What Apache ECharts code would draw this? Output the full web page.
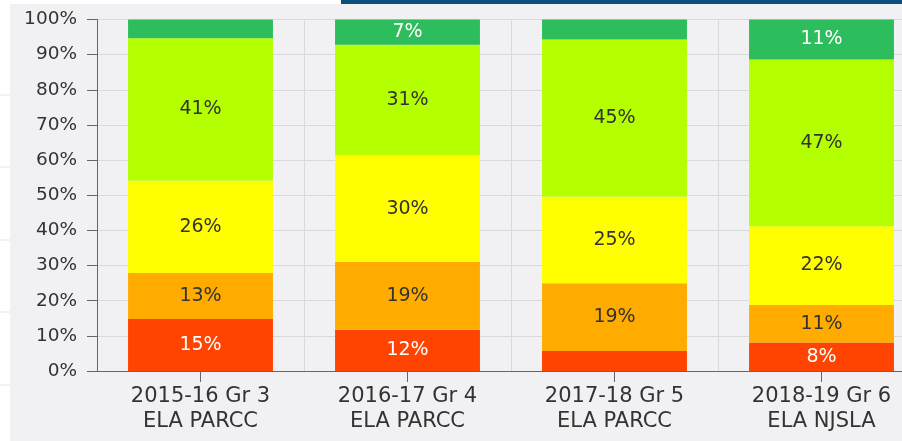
<!DOCTYPE html>
<html>
<head>
<meta charset="utf-8">
<script src="https://cdn.jsdelivr.net/npm/echarts@6/dist/echarts.min.js"></script>
<style>
    html, body { margin: 0; padding: 0; background: #fff; overflow: hidden; }
    /* plot runs past the right edge of the window, as in the screenshot */
    #chart { width: 925px; height: 441px; }
</style>
</head>
<body>
<div id="chart"></div>
<script>
// categories (x axis)
const categories = ['2015-16 Gr 3\nELA PARCC', '2016-17 Gr 4\nELA PARCC', '2017-18 Gr 5\nELA PARCC', '2018-19 Gr 6\nELA NJSLA']
// percent of students per level, bottom to top
const level1 = [14.8, 11.7, 5.7, 8.1]
const level2 = [13.1, 19.3, 19.3, 10.7]
const level3 = [26.2, 30.4, 24.6, 22.4]
const level4 = [40.6, 31.4, 44.7, 47.4]
const level5 = [5.3, 7.2, 5.7, 11.4]
const yTicks = [0, 10, 20, 30, 40, 50, 60, 70, 80, 90, 100]

const font = '"DejaVu Sans", Verdana, sans-serif'

function makeSeries(name, data, color, labelColor) {
    return {
        name: name,
        type: 'bar',
        stack: 'total',
        barWidth: '70%',
        data: data,
        itemStyle: { color: color },
        label: {
            show: true,
            position: 'inside',
            fontFamily: font,
            fontSize: 19,
            color: labelColor,
            formatter: function(p) {
                return p.value < 6.5 ? '' : Math.round(p.value) + '%'
            }
        }
    }
}

const chart = echarts.init(document.getElementById('chart'))
chart.setOption({
    backgroundColor: '#ffffff',
    animation: false,
    graphic: [
        { type: 'rect', z: -10, silent: true, shape: { x: 10, y: 4, width: 915, height: 437 }, style: { fill: '#f1f1f3' } },
        { type: 'rect', z: -10, silent: true, shape: { x: 341, y: 0, width: 584, height: 4 }, style: { fill: '#0d4f7c' } },
        { type: 'line', z: -10, silent: true, shape: { x1: 0, y1: 95, x2: 10, y2: 95 }, style: { stroke: '#e4e4e4' } },
        { type: 'line', z: -10, silent: true, shape: { x1: 0, y1: 167, x2: 10, y2: 167 }, style: { stroke: '#e4e4e4' } },
        { type: 'line', z: -10, silent: true, shape: { x1: 0, y1: 240, x2: 10, y2: 240 }, style: { stroke: '#e4e4e4' } },
        { type: 'line', z: -10, silent: true, shape: { x1: 0, y1: 312, x2: 10, y2: 312 }, style: { stroke: '#e4e4e4' } },
        { type: 'line', z: -10, silent: true, shape: { x1: 0, y1: 385, x2: 10, y2: 385 }, style: { stroke: '#e4e4e4' } }
    ],
    grid: {
        left: 97,
        top: 19.5,
        right: 0,
        bottom: 70
    },
    xAxis: {
        type: 'category',
        data: categories,
        axisLine: { lineStyle: { color: '#666', width: 1 } },
        axisTick: { show: true, alignWithLabel: true, length: 11, lineStyle: { color: '#666' } },
        splitLine: { show: true, lineStyle: { color: '#d9d9d9' } },
        axisLabel: {
            margin: 13,
            fontFamily: font,
            fontSize: 21,
            lineHeight: 25,
            color: '#333'
        }
    },
    yAxis: {
        type: 'value',
        min: yTicks[0],
        max: yTicks[yTicks.length - 1],
        interval: 10,
        axisLine: { show: true, lineStyle: { color: '#666', width: 1 } },
        axisTick: { show: true, length: 10, lineStyle: { color: '#666' } },
        splitLine: { lineStyle: { color: '#d9d9d9' } },
        axisLabel: {
            margin: 20,
            fontFamily: font,
            fontSize: 18.5,
            color: '#333',
            formatter: '{value}%'
        }
    },
    series: [
        makeSeries('Level 1', level1, '#ff4300', '#ffffff'),
        makeSeries('Level 2', level2, '#ffab00', '#333333'),
        makeSeries('Level 3', level3, '#ffff00', '#333333'),
        makeSeries('Level 4', level4, '#b4ff00', '#333333'),
        makeSeries('Level 5', level5, '#2dbd5c', '#ffffff')
    ]
})
</script>
</body>
</html>
